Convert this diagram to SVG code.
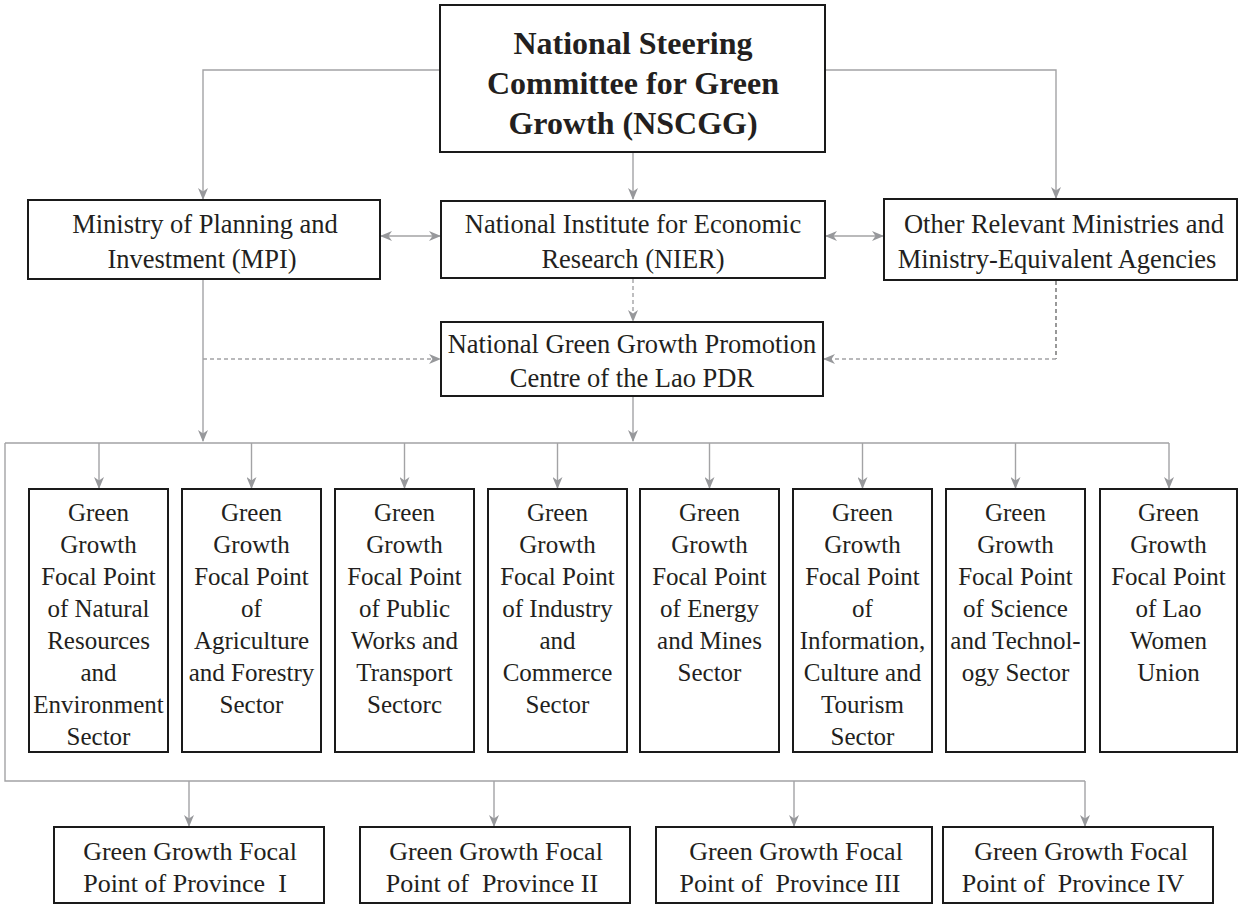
<svg xmlns="http://www.w3.org/2000/svg" width="1239" height="913" viewBox="0 0 1239 913">
<style>
.box{fill:#fff;stroke:#1a1a1a;stroke-width:2}
.t{font-family:"Liberation Serif","DejaVu Serif","Times New Roman",serif;fill:#231f20;text-anchor:middle}
.title{font-size:32px;font-weight:bold}
.m{font-size:26.5px}
.s{font-size:25px}
.p{font-size:26px}
.c{fill:none;stroke:#a3a3a5;stroke-width:1.4}
.d{fill:none;stroke:#a3a3a5;stroke-width:1.4;stroke-dasharray:4 3}
.dk{fill:none;stroke:#555;stroke-width:1.2;stroke-dasharray:4 3}
</style>
<defs>
<marker id="ah" markerUnits="userSpaceOnUse" markerWidth="12" markerHeight="10" refX="11" refY="5" orient="auto-start-reverse">
<path d="M0,0 L12,5 L0,10 L3.5,5 z" fill="#97989b"/>
</marker>
</defs>
<rect width="1239" height="913" fill="#fff"/>
<g id="connectors">
<path class="c" d="M440,70 H203 V199" marker-end="url(#ah)"/>
<path class="c" d="M633,152 V199" marker-end="url(#ah)"/>
<path class="c" d="M825,70 H1056 V198" marker-end="url(#ah)"/>
<path class="c" d="M381,236 H440" marker-start="url(#ah)" marker-end="url(#ah)"/>
<path class="c" d="M826,236 H883" marker-start="url(#ah)" marker-end="url(#ah)"/>
<path class="d" d="M633,279 V321" marker-end="url(#ah)"/>
<path class="d" d="M203,359 H440" marker-end="url(#ah)"/>
<path class="dk" d="M1056,281 V359"/>
<path class="d" d="M1056,359 H824" marker-end="url(#ah)"/>
<path class="c" d="M203,280 V441" marker-end="url(#ah)"/>
<path class="c" d="M633,397 V441" marker-end="url(#ah)"/>
<path class="c" d="M5,443 H1169 M5,443 V781 H1085"/>
<path class="c" d="M99,443 V488" marker-end="url(#ah)"/>
<path class="c" d="M251.5,443 V488" marker-end="url(#ah)"/>
<path class="c" d="M404.5,443 V488" marker-end="url(#ah)"/>
<path class="c" d="M557.5,443 V488" marker-end="url(#ah)"/>
<path class="c" d="M709.5,443 V488" marker-end="url(#ah)"/>
<path class="c" d="M862.5,443 V488" marker-end="url(#ah)"/>
<path class="c" d="M1015.5,443 V488" marker-end="url(#ah)"/>
<path class="c" d="M1169,443 V488" marker-end="url(#ah)"/>
<path class="c" d="M189,781 V826" marker-end="url(#ah)"/>
<path class="c" d="M494,781 V826" marker-end="url(#ah)"/>
<path class="c" d="M794,781 V826" marker-end="url(#ah)"/>
<path class="c" d="M1085,781 V826" marker-end="url(#ah)"/>
</g>
<g id="nscgg">
<rect class="box" x="440" y="5" width="385" height="147"/>
<text class="t title" x="633" y="54">National Steering</text>
<text class="t title" x="633" y="94">Committee for Green</text>
<text class="t title" x="633" y="134">Growth (NSCGG)</text>
</g>
<g id="mpi">
<rect class="box" x="28" y="200" width="352" height="79"/>
<text class="t m" x="205" y="233">Ministry of Planning and</text>
<text class="t m" x="202" y="268">Investment (MPI)</text>
</g>
<g id="nier">
<rect class="box" x="441" y="201" width="384" height="77"/>
<text class="t m" x="633" y="233">National Institute for Economic</text>
<text class="t m" x="633" y="268">Research (NIER)</text>
</g>
<g id="other">
<rect class="box" x="884" y="199" width="353" height="81"/>
<text class="t m" x="1064" y="233">Other Relevant Ministries and</text>
<text class="t m" x="1057" y="268">Ministry-Equivalent Agencies</text>
</g>
<g id="nggpc">
<rect class="box" x="441" y="322" width="382" height="74"/>
<text class="t m" x="632" y="353">National Green Growth Promotion</text>
<text class="t m" x="632" y="387">Centre of the Lao PDR</text>
</g>
<g id="sector1">
<rect class="box" x="29" y="489" width="139" height="263"/>
<text class="t s" x="98.5" y="521">Green</text>
<text class="t s" x="98.5" y="553">Growth</text>
<text class="t s" x="98.5" y="585">Focal Point</text>
<text class="t s" x="98.5" y="617">of Natural</text>
<text class="t s" x="98.5" y="649">Resources</text>
<text class="t s" x="98.5" y="681">and</text>
<text class="t s" x="98.5" y="713">Environment</text>
<text class="t s" x="98.5" y="745">Sector</text>
</g>
<g id="sector2">
<rect class="box" x="182" y="489" width="139" height="263"/>
<text class="t s" x="251.5" y="521">Green</text>
<text class="t s" x="251.5" y="553">Growth</text>
<text class="t s" x="251.5" y="585">Focal Point</text>
<text class="t s" x="251.5" y="617">of</text>
<text class="t s" x="251.5" y="649">Agriculture</text>
<text class="t s" x="251.5" y="681">and Forestry</text>
<text class="t s" x="251.5" y="713">Sector</text>
</g>
<g id="sector3">
<rect class="box" x="335" y="489" width="139" height="263"/>
<text class="t s" x="404.5" y="521">Green</text>
<text class="t s" x="404.5" y="553">Growth</text>
<text class="t s" x="404.5" y="585">Focal Point</text>
<text class="t s" x="404.5" y="617">of Public</text>
<text class="t s" x="404.5" y="649">Works and</text>
<text class="t s" x="404.5" y="681">Transport</text>
<text class="t s" x="404.5" y="713">Sectorc</text>
</g>
<g id="sector4">
<rect class="box" x="488" y="489" width="139" height="263"/>
<text class="t s" x="557.5" y="521">Green</text>
<text class="t s" x="557.5" y="553">Growth</text>
<text class="t s" x="557.5" y="585">Focal Point</text>
<text class="t s" x="557.5" y="617">of Industry</text>
<text class="t s" x="557.5" y="649">and</text>
<text class="t s" x="557.5" y="681">Commerce</text>
<text class="t s" x="557.5" y="713">Sector</text>
</g>
<g id="sector5">
<rect class="box" x="640" y="489" width="139" height="263"/>
<text class="t s" x="709.5" y="521">Green</text>
<text class="t s" x="709.5" y="553">Growth</text>
<text class="t s" x="709.5" y="585">Focal Point</text>
<text class="t s" x="709.5" y="617">of Energy</text>
<text class="t s" x="709.5" y="649">and Mines</text>
<text class="t s" x="709.5" y="681">Sector</text>
</g>
<g id="sector6">
<rect class="box" x="793" y="489" width="139" height="263"/>
<text class="t s" x="862.5" y="521">Green</text>
<text class="t s" x="862.5" y="553">Growth</text>
<text class="t s" x="862.5" y="585">Focal Point</text>
<text class="t s" x="862.5" y="617">of</text>
<text class="t s" x="862.5" y="649">Information,</text>
<text class="t s" x="862.5" y="681">Culture and</text>
<text class="t s" x="862.5" y="713">Tourism</text>
<text class="t s" x="862.5" y="745">Sector</text>
</g>
<g id="sector7">
<rect class="box" x="946" y="489" width="139" height="263"/>
<text class="t s" x="1015.5" y="521">Green</text>
<text class="t s" x="1015.5" y="553">Growth</text>
<text class="t s" x="1015.5" y="585">Focal Point</text>
<text class="t s" x="1015.5" y="617">of Science</text>
<text class="t s" x="1015.5" y="649">and Technol-</text>
<text class="t s" x="1015.5" y="681">ogy Sector</text>
</g>
<g id="sector8">
<rect class="box" x="1100" y="489" width="137" height="263"/>
<text class="t s" x="1168.5" y="521">Green</text>
<text class="t s" x="1168.5" y="553">Growth</text>
<text class="t s" x="1168.5" y="585">Focal Point</text>
<text class="t s" x="1168.5" y="617">of Lao</text>
<text class="t s" x="1168.5" y="649">Women</text>
<text class="t s" x="1168.5" y="681">Union</text>
</g>
<g id="province1">
<rect class="box" x="54" y="827" width="270" height="76"/>
<text class="t p" x="190" y="860">Green Growth Focal</text>
<text class="t p" x="185" y="892" xml:space="preserve">Point of Province  I</text>
</g>
<g id="province2">
<rect class="box" x="360" y="827" width="270" height="76"/>
<text class="t p" x="496" y="860">Green Growth Focal</text>
<text class="t p" x="492" y="892" xml:space="preserve">Point of  Province II</text>
</g>
<g id="province3">
<rect class="box" x="656" y="827" width="276" height="76"/>
<text class="t p" x="796" y="860">Green Growth Focal</text>
<text class="t p" x="790" y="892" xml:space="preserve">Point of  Province III</text>
</g>
<g id="province4">
<rect class="box" x="943" y="827" width="270" height="76"/>
<text class="t p" x="1081" y="860">Green Growth Focal</text>
<text class="t p" x="1073" y="892" xml:space="preserve">Point of  Province IV</text>
</g>
</svg>
